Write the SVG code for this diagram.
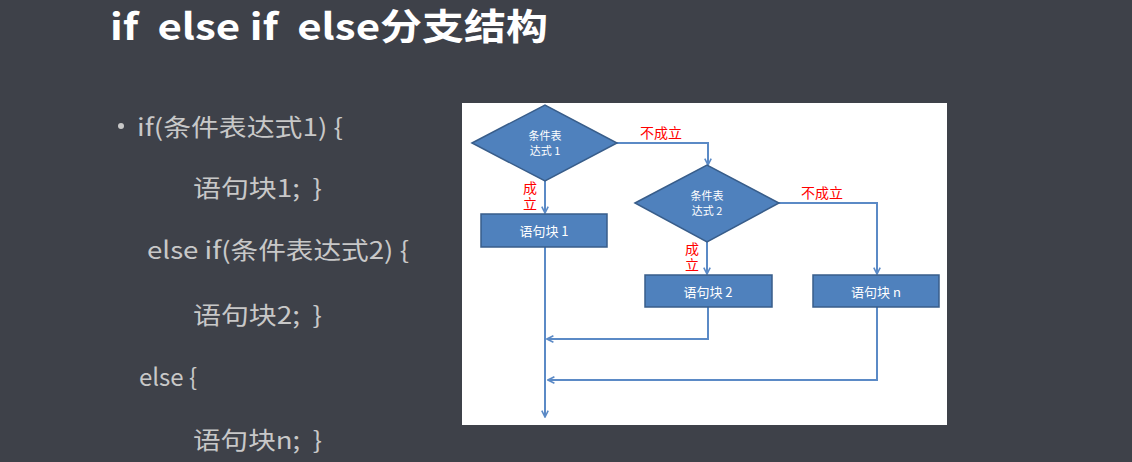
<svg xmlns="http://www.w3.org/2000/svg" width="1132" height="462" viewBox="0 0 1132 462">
<style>
.title{font-family:"Noto Sans CJK SC","Liberation Sans",sans-serif;font-weight:bold;font-size:36px;fill:#ffffff;white-space:pre}
.code{font-family:"Noto Sans CJK SC","Liberation Sans",sans-serif;font-size:24px;fill:#c8c8c8;white-space:pre}
.shape{fill:#4f81bd;stroke:#385d8a;stroke-width:1.5}
.ntext{font-family:"Noto Sans CJK SC","Liberation Sans",sans-serif;fill:#ffffff;text-anchor:middle}
.red{font-family:"Noto Sans CJK SC","Liberation Serif",serif;fill:#ff0000;font-size:14px}
.vert{writing-mode:vertical-rl;letter-spacing:2px}
.conn{fill:none;stroke:#5b8ac6;stroke-width:2}
</style>
<defs>
<marker id="arr" viewBox="0 0 10 10" refX="9" refY="5" markerWidth="8" markerHeight="8" markerUnits="userSpaceOnUse" orient="auto">
<path d="M1,1 L9,5 L1,9" fill="none" stroke="#5b8ac6" stroke-width="2"/>
</marker>
</defs>
<rect x="0" y="0" width="1132" height="462" fill="#3e4149"/>
<text class="title" x="110" y="40" textLength="438" lengthAdjust="spacingAndGlyphs" xml:space="preserve">if  else if  else分支结构</text>
<g id="code">
<circle cx="121" cy="126" r="3" fill="#c8c8c8"/>
<text class="code" x="137" y="136" textLength="206" lengthAdjust="spacingAndGlyphs">if(条件表达式1) {</text>
<text class="code" x="193" y="197" textLength="129" lengthAdjust="spacingAndGlyphs" xml:space="preserve">语句块1;  }</text>
<text class="code" x="147" y="259" textLength="262" lengthAdjust="spacingAndGlyphs">else if(条件表达式2) {</text>
<text class="code" x="193" y="324" textLength="129" lengthAdjust="spacingAndGlyphs" xml:space="preserve">语句块2;  }</text>
<text class="code" x="139" y="386">else {</text>
<text class="code" x="193" y="449" textLength="129" lengthAdjust="spacingAndGlyphs" xml:space="preserve">语句块n;  }</text>
</g>
<rect x="462" y="103" width="485" height="322" fill="#ffffff"/>
<g id="connectors">
<path class="conn" d="M545,181 V213" marker-end="url(#arr)"/>
<path class="conn" d="M617,143 H708 V165" marker-end="url(#arr)"/>
<path class="conn" d="M707,242 V274" marker-end="url(#arr)"/>
<path class="conn" d="M779,203 H877 V274" marker-end="url(#arr)"/>
<path class="conn" d="M545,247 V417" marker-end="url(#arr)"/>
<path class="conn" d="M708,307 V339 H547" marker-end="url(#arr)"/>
<path class="conn" d="M877,307 V380 H548" marker-end="url(#arr)"/>
<text class="red" x="640" y="138" font-size="15">不成立</text>
<text class="red" x="801" y="198" font-size="15">不成立</text>
<text class="red vert" x="530" y="181">成立</text>
<text class="red vert" x="692" y="242">成立</text>
</g>
<g id="cond1">
<polygon class="shape" points="472,143 545,105 617,143 545,181"/>
<text class="ntext" x="545" y="140" font-size="11">条件表</text>
<text class="ntext" x="545" y="155" font-size="11">达式 1</text>
</g>
<g id="block1">
<rect class="shape" x="481" y="214" width="126" height="33"/>
<text class="ntext" x="544" y="236" font-size="13">语句块 1</text>
</g>
<g id="cond2">
<polygon class="shape" points="635,203 707,165 779,203 707,242"/>
<text class="ntext" x="707" y="200" font-size="11">条件表</text>
<text class="ntext" x="707" y="215" font-size="11">达式 2</text>
</g>
<g id="block2">
<rect class="shape" x="645" y="275" width="127" height="32"/>
<text class="ntext" x="708" y="297" font-size="13">语句块 2</text>
</g>
<g id="blockn">
<rect class="shape" x="813" y="275" width="126" height="32"/>
<text class="ntext" x="876" y="297" font-size="13">语句块 n</text>
</g>
</svg>
